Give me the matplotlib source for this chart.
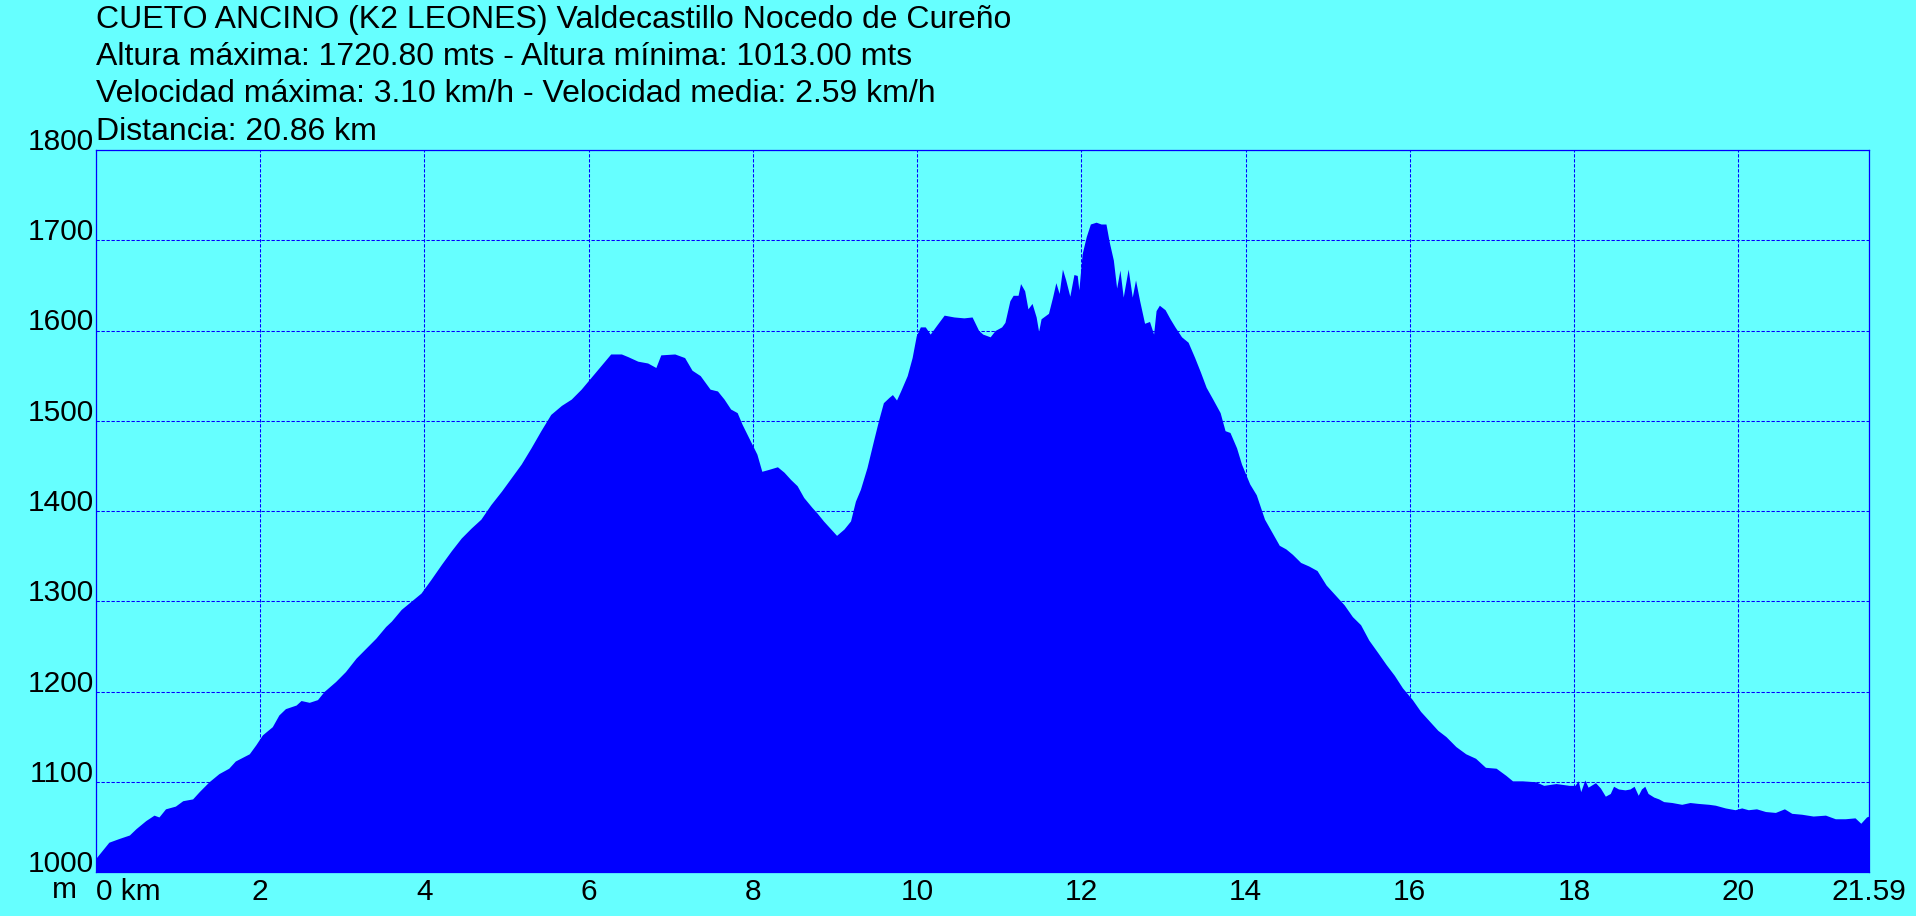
import matplotlib
matplotlib.use("Agg")
import matplotlib.pyplot as plt

plt.rcParams['font.family'] = ['Liberation Sans', 'DejaVu Sans']
plt.rcParams['lines.scale_dashes'] = False

# distance (km) and altitude (m)
dist = [0.00, 0.16, 0.28, 0.41, 0.49, 0.61, 0.71, 0.77, 0.85, 0.97,
        1.06, 1.18, 1.26, 1.38, 1.50, 1.62, 1.70, 1.87, 1.95, 2.03,
        2.15, 2.23, 2.31, 2.44, 2.50, 2.60, 2.70, 2.78, 2.92, 3.04,
        3.17, 3.29, 3.41, 3.53, 3.60, 3.72, 3.84, 3.96, 4.08, 4.21,
        4.33, 4.45, 4.57, 4.69, 4.81, 4.94, 5.06, 5.18, 5.30, 5.42,
        5.54, 5.67, 5.79, 5.91, 6.03, 6.15, 6.27, 6.40, 6.48, 6.60,
        6.72, 6.82, 6.88, 7.05, 7.17, 7.26, 7.36, 7.48, 7.57, 7.65,
        7.73, 7.81, 7.87, 7.93, 7.99, 8.05, 8.11, 8.19, 8.30, 8.38,
        8.46, 8.54, 8.62, 8.72, 8.78, 8.86, 8.95, 9.02, 9.11, 9.19,
        9.25, 9.31, 9.39, 9.47, 9.53, 9.59, 9.66, 9.70, 9.75, 9.80,
        9.88, 9.94, 9.99, 10.04, 10.10, 10.16, 10.24, 10.33, 10.45, 10.57,
        10.67, 10.75, 10.80, 10.89, 10.95, 11.03, 11.07, 11.13, 11.17, 11.23,
        11.26, 11.31, 11.35, 11.40, 11.45, 11.48, 11.51, 11.60, 11.65, 11.69,
        11.73, 11.77, 11.81, 11.86, 11.91, 11.95, 11.97, 12.01, 12.06, 12.11,
        12.18, 12.24, 12.30, 12.34, 12.39, 12.43, 12.47, 12.51, 12.57, 12.62,
        12.66, 12.71, 12.77, 12.83, 12.88, 12.91, 12.95, 13.02, 13.08, 13.14,
        13.22, 13.30, 13.38, 13.45, 13.52, 13.60, 13.69, 13.75, 13.81, 13.89,
        13.95, 14.05, 14.13, 14.23, 14.41, 14.49, 14.57, 14.67, 14.77, 14.87,
        14.98, 15.10, 15.20, 15.30, 15.40, 15.50, 15.61, 15.71, 15.81, 15.91,
        16.03, 16.13, 16.23, 16.34, 16.44, 16.56, 16.68, 16.80, 16.92, 17.05,
        17.17, 17.25, 17.37, 17.53, 17.63, 17.78, 17.94, 18.01, 18.05, 18.08,
        18.13, 18.17, 18.26, 18.32, 18.38, 18.44, 18.48, 18.54, 18.62, 18.68,
        18.73, 18.78, 18.82, 18.86, 18.90, 18.97, 19.03, 19.09, 19.19, 19.31,
        19.41, 19.51, 19.64, 19.72, 19.84, 19.96, 20.04, 20.12, 20.22, 20.33,
        20.45, 20.56, 20.65, 20.77, 20.91, 21.06, 21.18, 21.30, 21.42, 21.49,
        21.56, 21.59]
alt = [1015, 1033, 1037, 1041, 1048, 1057, 1063, 1061, 1070, 1073,
       1079, 1081, 1089, 1100, 1109, 1115, 1123, 1131, 1141, 1152,
       1161, 1174, 1181, 1185, 1190, 1188, 1191, 1200, 1211, 1222,
       1237, 1248, 1259, 1272, 1278, 1291, 1300, 1309, 1324, 1341,
       1356, 1370, 1381, 1391, 1407, 1422, 1437, 1452, 1470, 1489,
       1507, 1517, 1524, 1535, 1548, 1561, 1574, 1574, 1571, 1566,
       1564, 1559, 1573, 1574, 1570, 1556, 1550, 1535, 1533, 1524,
       1513, 1509, 1496, 1485, 1474, 1463, 1444, 1446, 1449, 1443,
       1435, 1428, 1415, 1404, 1398, 1389, 1380, 1373, 1380, 1389,
       1411, 1424, 1448, 1478, 1500, 1520, 1526, 1529, 1523, 1533,
       1550, 1570, 1594, 1604, 1604, 1596, 1606, 1617, 1615, 1614,
       1615, 1600, 1596, 1593, 1600, 1604, 1609, 1633, 1639, 1639,
       1652, 1644, 1624, 1630, 1615, 1599, 1613, 1619, 1637, 1653,
       1641, 1668, 1656, 1638, 1662, 1661, 1645, 1685, 1704, 1718,
       1720, 1718, 1718, 1698, 1678, 1647, 1667, 1637, 1668, 1637,
       1656, 1633, 1608, 1610, 1596, 1622, 1628, 1623, 1613, 1604,
       1593, 1587, 1570, 1554, 1537, 1524, 1509, 1489, 1487, 1470,
       1452, 1430, 1418, 1391, 1362, 1358, 1352, 1343, 1339, 1334,
       1318, 1306, 1296, 1283, 1274, 1257, 1243, 1230, 1218, 1204,
       1191, 1178, 1168, 1157, 1150, 1139, 1131, 1126, 1116, 1115,
       1107, 1101, 1101, 1100, 1096, 1098, 1096, 1096, 1101, 1089,
       1102, 1094, 1099, 1093, 1084, 1087, 1095, 1092, 1091, 1092,
       1095, 1085, 1092, 1095, 1087, 1083, 1081, 1078, 1077, 1075,
       1077, 1076, 1075, 1074, 1071, 1069, 1071, 1069, 1070, 1067,
       1066, 1070, 1065, 1064, 1062, 1063, 1059, 1059, 1060, 1054,
       1061, 1062]

x_ticks = [0, 2, 4, 6, 8, 10, 12, 14, 16, 18, 20, 21.59]
x_labels = ['0 km', '2', '4', '6', '8', '10', '12', '14', '16', '18', '20', '21.59']
y_ticks = [1000, 1100, 1200, 1300, 1400, 1500, 1600, 1700, 1800]

title_lines = [
    "CUETO ANCINO (K2 LEONES) Valdecastillo Nocedo de Cureño",
    "Altura máxima: 1720.80 mts - Altura mínima: 1013.00 mts",
    "Velocidad máxima: 3.10 km/h - Velocidad media: 2.59 km/h",
    "Distancia: 20.86 km",
]

bg = '#66FFFF'
blue = '#0000FF'
W, H = 1916, 916
fs = 21.5
fs_title = 23

fig = plt.figure(figsize=(W / 100, H / 100), dpi=100, facecolor=bg)
ax = fig.add_axes([95.7 / W, 1 - 872 / H, (1869 - 95.7) / W, (872 - 150) / H])
ax.set_facecolor(bg)

ax.fill_between(dist, alt, 1000, color=blue, lw=0, zorder=2)

ax.set_xlim(0, 21.59)
ax.set_ylim(1000, 1800)
ax.set_xticks(x_ticks)
ax.set_xticklabels(x_labels, fontsize=fs)
ax.set_yticks(y_ticks)
ax.set_yticklabels([str(v) for v in y_ticks], fontsize=fs)
ax.tick_params(length=0)
ax.tick_params(axis='y', pad=1.5)
ax.tick_params(axis='x', pad=4)
for lab in ax.get_yticklabels():
    lab.set_va('baseline')
ax.get_xticklabels()[0].set_ha('left')

ax.set_axisbelow(True)
ax.grid(True, color=blue, lw=0.75, linestyle=(0, (2.4, 1.2)))
for s in ax.spines.values():
    s.set_color(blue)
    s.set_linewidth(0.9)

fig.text(77 / W, 1 - 898 / H, 'm', fontsize=fs, ha='right', va='baseline')

baselines = [28, 65, 102, 140]
for txt, b in zip(title_lines, baselines):
    fig.text(95.7 / W, 1 - b / H, txt, fontsize=fs_title, ha='left', va='baseline')

fig.savefig('out.png', dpi=100, facecolor=bg)
